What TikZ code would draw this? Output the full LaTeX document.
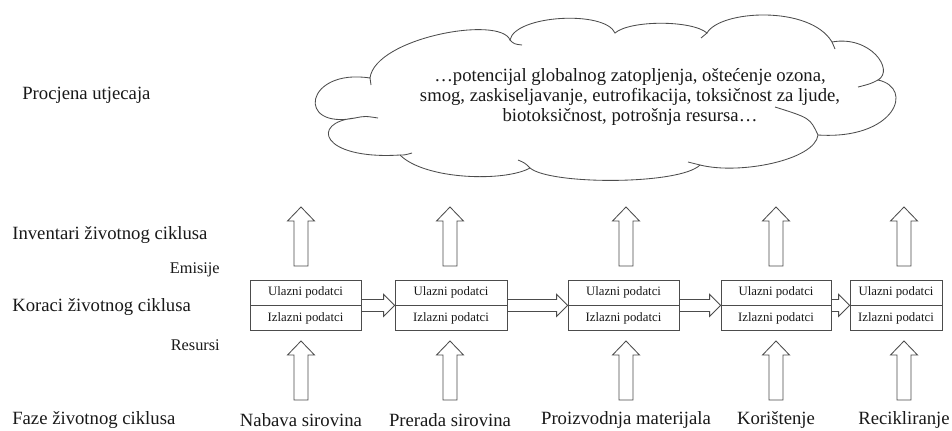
\documentclass[tikz,border=0pt]{standalone}
\usepackage{fontspec}
\setmainfont{Liberation Serif}
\usetikzlibrary{calc}
\tikzset{
  lbl/.style={inner sep=0,text=black!90,font=\fontsize{13.3}{14}\selectfont},
  sidelbl/.style={inner sep=0,text=black!90,font=\fontsize{11.6}{12}\selectfont},
  box/.style={draw=black!70,line width=0.6pt,minimum height=25*0.25mm,inner sep=0,text=black!90,font=\fontsize{9.1}{10}\selectfont},
  arr/.style={draw=black!70,line width=0.6pt,fill=white},
  cloudline/.style={draw=black!70,line width=0.6pt},
  pics/uparr/.style={code={\draw[arr] (-7,0) -- (-7,-45) -- (-13.5,-45) -- (0,-59) -- (13.5,-45) -- (7,-45) -- (7,0) -- cycle;}}
}
\begin{document}
\begin{tikzpicture}[x=0.25mm,y=-0.25mm]
  \fill[white] (0,0) rectangle (952,430);
  \useasboundingbox (0,0) rectangle (952,430);
  \draw[cloudline] (370,78) .. controls (375,38) and (500,15) .. (510,40)
    .. controls (515,15) and (605,10) .. (615,33)
    .. controls (630,20) and (692,20) .. (707,33)
    .. controls (720,10) and (810,5) .. (832,42)
    .. controls (870,35) and (895,70) .. (878,80)
    .. controls (915,88) and (895,140) .. (818,135)
    .. controls (815,160) and (740,175) .. (700,165)
    .. controls (680,185) and (550,185) .. (530,168)
    .. controls (505,182) and (425,180) .. (400,155)
    .. controls (320,160) and (310,122) .. (355,118)
    .. controls (295,130) and (305,68) .. (370,78) -- cycle;
  \draw[cloudline] (355,118) .. controls (365,116) .. (378,118);
  \draw[cloudline] (400,155) .. controls (405,155) .. (412,153);
  \draw[cloudline] (530,168) .. controls (525,163) .. (518,160);
  \draw[cloudline] (700,165) .. controls (694,163) .. (688,162);
  \draw[cloudline] (818,135) .. controls (810,118) .. (775,107);
  \draw[cloudline] (878,80) .. controls (870,84) .. (858,87);
  \draw[cloudline] (832,42) .. controls (834,45) .. (835,49);
  \draw[cloudline] (510,40) .. controls (514,44) .. (522,45);
  \draw[cloudline] (707,33) .. controls (704,35) .. (701,38);
  \draw[cloudline] (370,78) .. controls (371,81) .. (371,85);
  \node[lbl,align=center,font=\fontsize{13.3}{13.9}\selectfont] (imp) at (630,97)
    {…potencijal globalnog zatopljenja, oštećenje ozona,\\
     smog, zaskiseljavanje, eutrofikacija, toksičnost za ljude,\\
     biotoksičnost, potrošnja resursa…};
  \node[lbl,anchor=west] (pu) at (22,95) {Procjena utjecaja};
  \node[lbl,anchor=west] (inv) at (12,235) {Inventari životnog ciklusa};
  \node[sidelbl,anchor=east] (emi) at (220,270) {Emisije};
  \node[lbl,anchor=west] (kor) at (12,307) {Koraci životnog ciklusa};
  \node[sidelbl,anchor=east] (res) at (220,345) {Resursi};
  \node[lbl,anchor=west] (faz) at (12,420) {Faze životnog ciklusa};
  \foreach \i/\bx/\w/\ax/\lab in {1/305.5/111/301/Nabava sirovina,2/451/112/450/Prerada sirovina,3/623.5/111/626/Proizvodnja materijala,4/776/110/776/Korištenje,5/896/92/904/Recikliranje}{
    \node[box,minimum width=\w*0.25mm] (u\i) at (\bx,292.5) {Ulazni podatci};
    \node[box,minimum width=\w*0.25mm,anchor=north] (z\i) at (u\i.south) {Izlazni podatci};
    \node[lbl] (f\i) at (\ax,420) {\lab};
    \pic at (\ax,266) {uparr};
    \pic at (\ax,400) {uparr};
  }
  \foreach \a/\b in {1/2,2/3,3/4,4/5}
    \draw[arr] let \p1=(u\a.south east), \p2=(u\b.south west) in
      (\x1,\y1+1.5mm) -- (\x2-2.75mm,\y1+1.5mm) -- (\x2-2.75mm,\y1+2.75mm) -- (\x2,\y1)
      -- (\x2-2.75mm,\y1-2.75mm) -- (\x2-2.75mm,\y1-1.5mm) -- (\x1,\y1-1.5mm) -- cycle;
\end{tikzpicture}
\end{document}
